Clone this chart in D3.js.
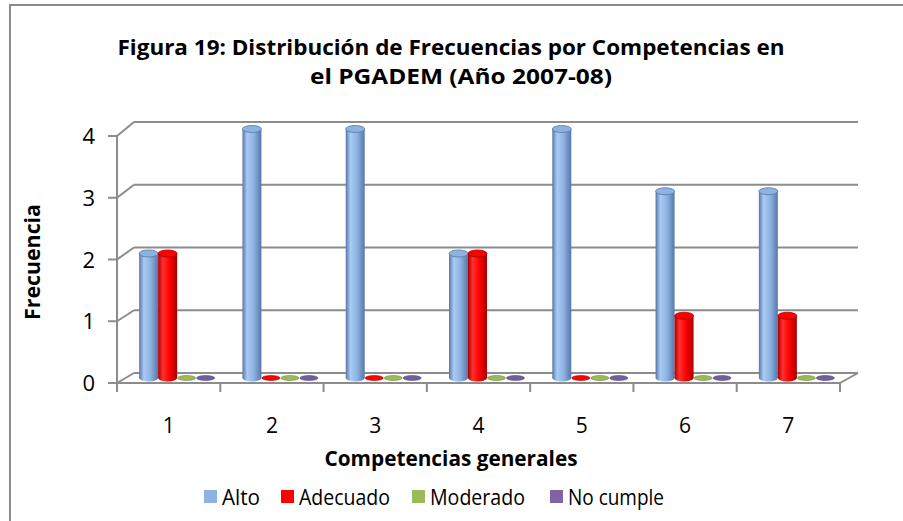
<!DOCTYPE html>
<html>
<head>
<meta charset="utf-8">
<script src="https://cdn.jsdelivr.net/npm/d3@7"></script>
<style>
  body { margin: 0; background: #fff; }
  svg { display: block; font-family: "Open Sans", "Noto Sans", sans-serif; }
</style>
</head>
<body>
<svg width="903" height="521"></svg>
<script>
// **** Data ****
var categories = ['1', '2', '3', '4', '5', '6', '7'];
var seriesNames = ['Alto', 'Adecuado', 'Moderado', 'No cumple'];
var alto = [2, 4, 4, 2, 4, 3, 3];
var adecuado = [2, 0, 0, 2, 0, 1, 1];
var moderado = [0, 0, 0, 0, 0, 0, 0];
var noCumple = [0, 0, 0, 0, 0, 0, 0];
var yTicks = [0, 1, 2, 3, 4];

var seriesValues = [alto, adecuado, moderado, noCumple];
var colors = {
    'Alto': { light: '#a9caf3', mid: '#8db3e2', dark: '#5877a8', flat: '#8db3e2' },
    'Adecuado': { light: '#ff3030', mid: '#ff0000', dark: '#a80000', flat: '#ff0000' },
    'Moderado': { light: '#b5d27a', mid: '#9bbb59', dark: '#6f8a3c', flat: '#9bbb59' },
    'No cumple': { light: '#9a80bd', mid: '#8064a2', dark: '#5a4478', flat: '#7060a0' }
};

var svg = d3.select('svg');

// chart border
svg.append('rect')
    .attr('x', 10).attr('y', 5)
    .attr('width', 1000).attr('height', 1000)
    .attr('fill', 'none')
    .attr('stroke', '#8a8a8a')
    .attr('stroke-width', 2);

// **** Scales (front face, back wall and middle depth) ****
var depthX = 17, depthY = -10;
var yFront = d3.scaleLinear().domain([0, 4]).range([383, 136]);
var yBack = d3.scaleLinear().domain([0, 4]).range([373, 122]);
var yMid = d3.scaleLinear().domain([0, 4]).range([378, 129]);

var xFront = d3.scaleBand().domain(categories).range([117, 840]).padding(0);
var xSeries = d3.scaleBand().domain(seriesNames).range([0, 76]).padding(0);
var groupOffset = (xFront.bandwidth() - 76) / 2 + depthX / 2;

// **** Walls, gridlines, axes ****
var gridColor = '#8c8c8c';
var axisG = svg.append('g');

yTicks.forEach(function(t) {
    axisG.append('line')
        .attr('x1', 117 + depthX).attr('x2', 858)
        .attr('y1', yBack(t)).attr('y2', yBack(t))
        .attr('stroke', gridColor).attr('stroke-width', 2);
    axisG.append('line')
        .attr('x1', 117).attr('x2', 117 + depthX)
        .attr('y1', yFront(t)).attr('y2', yBack(t))
        .attr('stroke', gridColor).attr('stroke-width', 2);
    axisG.append('line')
        .attr('x1', 108).attr('x2', 117)
        .attr('y1', yFront(t)).attr('y2', yFront(t))
        .attr('stroke', gridColor).attr('stroke-width', 2);
    axisG.append('text')
        .attr('x', 95).attr('y', yFront(t) + 8)
        .attr('text-anchor', 'end')
        .style('font-size', '22px')
        .attr('fill', '#000')
        .text(t);
});

// front vertical axis
axisG.append('line')
    .attr('x1', 117).attr('x2', 117)
    .attr('y1', yFront(4)).attr('y2', 392)
    .attr('stroke', gridColor).attr('stroke-width', 2);

// floor: front edge and right edge
axisG.append('line')
    .attr('x1', 117).attr('x2', 840)
    .attr('y1', yFront(0)).attr('y2', yFront(0))
    .attr('stroke', gridColor).attr('stroke-width', 2);
axisG.append('line')
    .attr('x1', 840).attr('x2', 858)
    .attr('y1', yFront(0)).attr('y2', yBack(0))
    .attr('stroke', gridColor).attr('stroke-width', 2);

// category ticks and labels
d3.range(categories.length + 1).forEach(function(i) {
    var x = 117 + i * xFront.step();
    axisG.append('line')
        .attr('x1', x).attr('x2', x)
        .attr('y1', yFront(0)).attr('y2', 392)
        .attr('stroke', gridColor).attr('stroke-width', 2);
});
categories.forEach(function(c) {
    axisG.append('text')
        .attr('x', xFront(c) + xFront.bandwidth() / 2)
        .attr('y', 433)
        .attr('text-anchor', 'middle')
        .style('font-size', '21px')
        .text(c);
});

// **** Gradients for cylinders ****
var defs = svg.append('defs');
seriesNames.forEach(function(s, i) {
    var g = defs.append('linearGradient')
        .attr('id', 'grad' + i)
        .attr('x1', '0%').attr('x2', '100%').attr('y1', '0%').attr('y2', '0%');
    g.append('stop').attr('offset', '0%').attr('stop-color', colors[s].dark);
    g.append('stop').attr('offset', '25%').attr('stop-color', colors[s].light);
    g.append('stop').attr('offset', '60%').attr('stop-color', colors[s].mid);
    g.append('stop').attr('offset', '100%').attr('stop-color', colors[s].dark);
});

// **** Bars (cylinders) ****
var ry = 3.5;
var barsG = svg.append('g');
categories.forEach(function(c, ci) {
    seriesNames.forEach(function(s, si) {
        var v = seriesValues[si][ci];
        var w = xSeries.bandwidth();
        var x0 = xFront(c) + groupOffset + xSeries(s);
        var cx = x0 + w / 2;
        var base = yMid(0);
        if (v === 0) {
            barsG.append('ellipse')
                .attr('cx', cx).attr('cy', base)
                .attr('rx', w / 2 - 0.5).attr('ry', 2.5)
                .attr('fill', colors[s].flat)
                .attr('stroke', colors[s].dark).attr('stroke-width', 0.6);
            return;
        }
        var top = yMid(v);
        barsG.append('ellipse')
            .attr('cx', cx).attr('cy', base)
            .attr('rx', w / 2).attr('ry', ry)
            .attr('fill', 'url(#grad' + si + ')');
        barsG.append('rect')
            .attr('x', x0).attr('y', top)
            .attr('width', w).attr('height', base - top)
            .attr('fill', 'url(#grad' + si + ')');
        barsG.append('ellipse')
            .attr('cx', cx).attr('cy', top)
            .attr('rx', w / 2).attr('ry', ry)
            .attr('fill', colors[s].mid)
            .attr('stroke', colors[s].dark).attr('stroke-width', 0.8);
    });
});

// **** Titles ****
svg.append('text')
    .attr('x', 451).attr('y', 55)
    .attr('text-anchor', 'middle')
    .attr('textLength', 667).attr('lengthAdjust', 'spacingAndGlyphs')
    .style('font-size', '21px').style('font-weight', 'bold')
    .text('Figura 19: Distribución de Frecuencias por Competencias en');
svg.append('text')
    .attr('x', 461).attr('y', 84)
    .attr('text-anchor', 'middle')
    .attr('textLength', 302).attr('lengthAdjust', 'spacingAndGlyphs')
    .style('font-size', '21px').style('font-weight', 'bold')
    .text('el PGADEM (Año 2007-08)');

svg.append('text')
    .attr('transform', 'translate(40, 262) rotate(-90)')
    .attr('text-anchor', 'middle')
    .attr('textLength', 116).attr('lengthAdjust', 'spacingAndGlyphs')
    .style('font-size', '21px').style('font-weight', 'bold')
    .text('Frecuencia');

svg.append('text')
    .attr('x', 451).attr('y', 466)
    .attr('text-anchor', 'middle')
    .attr('textLength', 253).attr('lengthAdjust', 'spacingAndGlyphs')
    .style('font-size', '21px').style('font-weight', 'bold')
    .text('Competencias generales');

// **** Legend ****
var legendX = [204, 281, 412, 550];
var legendW = [38, 91, 95, 96];
var legend = svg.append('g');
seriesNames.forEach(function(s, i) {
    legend.append('rect')
        .attr('x', legendX[i]).attr('y', 490)
        .attr('width', 13).attr('height', 13)
        .attr('fill', colors[s].mid);
    legend.append('text')
        .attr('x', legendX[i] + 18).attr('y', 505)
        .attr('textLength', legendW[i]).attr('lengthAdjust', 'spacingAndGlyphs')
        .style('font-size', '22px')
        .text(s);
});
</script>
</body>
</html>
